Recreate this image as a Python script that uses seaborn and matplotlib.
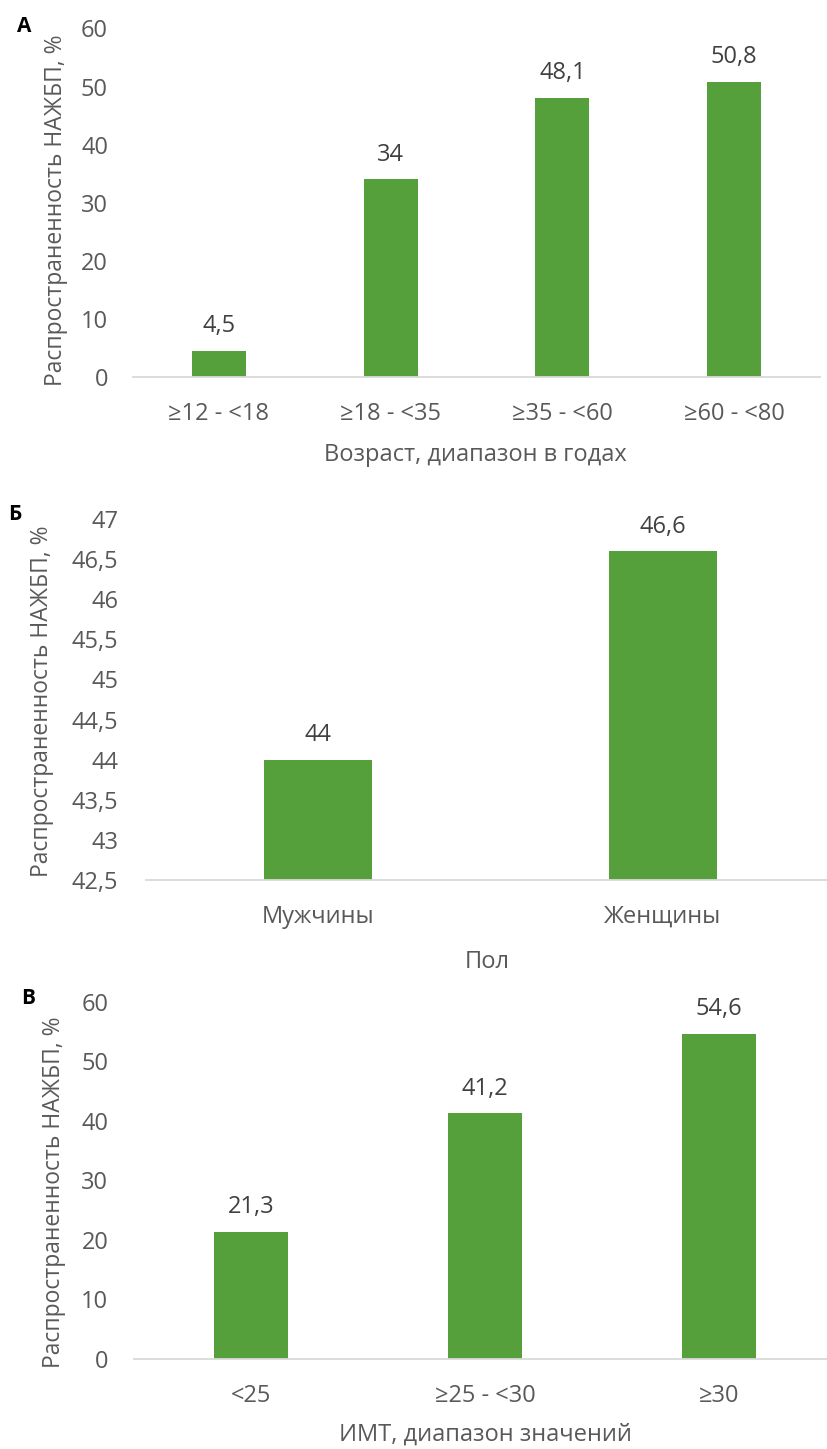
import matplotlib
matplotlib.use("Agg")
import matplotlib.pyplot as plt
from matplotlib.ticker import FuncFormatter, MultipleLocator
import seaborn as sns
import pandas as pd

# Prevalence of NAFLD by age, sex and BMI
age_groups = ["≥12 - <18", "≥18 - <35", "≥35 - <60", "≥60 - <80"]
age_values = [4.5, 34, 48.1, 50.8]

sex_groups = ["Мужчины", "Женщины"]
sex_values = [44, 46.6]

bmi_groups = ["<25", "≥25 - <30", "≥30"]
bmi_values = [21.3, 41.2, 54.6]

panel_letters = ["А", "Б", "В"]
y_title = "Распространенность НАЖБП, %"
x_titles = ["Возраст, диапазон в годах", "Пол", "ИМТ, диапазон значений"]

sns.set_theme(style="white")
plt.rcParams["font.family"] = ["Open Sans", "DejaVu Sans"]

BAR = "#55A03A"
TICK = "#595959"
LABEL = "#404040"
AXIS = "#D9D9D9"
FS = 17

W, H = 827, 1449
fig = plt.figure(figsize=(W / 100, H / 100), dpi=100)


def px_axes(left, right, top, bottom):
    return fig.add_axes([left / W, 1 - bottom / H, (right - left) / W, (bottom - top) / H])


def comma(v, _pos=None):
    return f"{v:g}".replace(".", ",")


panels = [
    dict(cats=age_groups, vals=age_values, box=(133, 820, 28.4, 377), ylim=(0, 60), step=10,
         ypad=18, xlab=(0.498, -0.224), ylab=(-0.112, 0.479), letter=(24, 27)),
    dict(cats=sex_groups, vals=sex_values, box=(145.5, 835.5, 519, 880), ylim=(42.5, 47), step=0.5,
         ypad=19.5, xlab=(0.496, -0.227), ylab=(-0.150, 0.495), letter=(15, 515)),
    dict(cats=bmi_groups, vals=bmi_values, box=(134, 836, 1001.7, 1358.5), ylim=(0, 60), step=10,
         ypad=18.5, xlab=(0.5, -0.214), ylab=(-0.114, 0.467), letter=(28, 998)),
]

for i, p in enumerate(panels):
    ax = px_axes(*p["box"])
    df = pd.DataFrame({"group": p["cats"], "value": p["vals"]})
    sns.barplot(data=df, x="group", y="value", order=p["cats"], color=BAR,
                saturation=1, width=0.315, ax=ax, linewidth=0)
    n = len(p["cats"])
    ax.set_xlim(-0.5, n - 0.5)
    ax.set_ylim(*p["ylim"])
    ax.yaxis.set_major_locator(MultipleLocator(p["step"]))
    ax.yaxis.set_major_formatter(FuncFormatter(comma))

    for side in ("left", "top", "right"):
        ax.spines[side].set_visible(False)
    ax.spines["bottom"].set_color(AXIS)
    ax.spines["bottom"].set_linewidth(1.3)
    ax.grid(False)

    ax.tick_params(axis="both", length=0, labelsize=FS, labelcolor=TICK)
    ax.tick_params(axis="y", pad=p["ypad"])
    ax.tick_params(axis="x", pad=18)

    ax.bar_label(ax.containers[0], labels=[comma(v) for v in p["vals"]],
                 padding=9, fontsize=FS, color=LABEL)

    ax.set_xlabel(x_titles[i], fontsize=FS, color=TICK, va="center")
    ax.xaxis.set_label_coords(*p["xlab"])
    ax.set_ylabel(y_title, fontsize=16.5, color=TICK, va="center")
    ax.yaxis.set_label_coords(*p["ylab"])

    lx, ly = p["letter"]
    fig.text(lx / W, 1 - ly / H, panel_letters[i], fontsize=15, fontweight="bold",
             color="black", ha="center", va="center")

fig.savefig("out.png", dpi=100, facecolor="white")
